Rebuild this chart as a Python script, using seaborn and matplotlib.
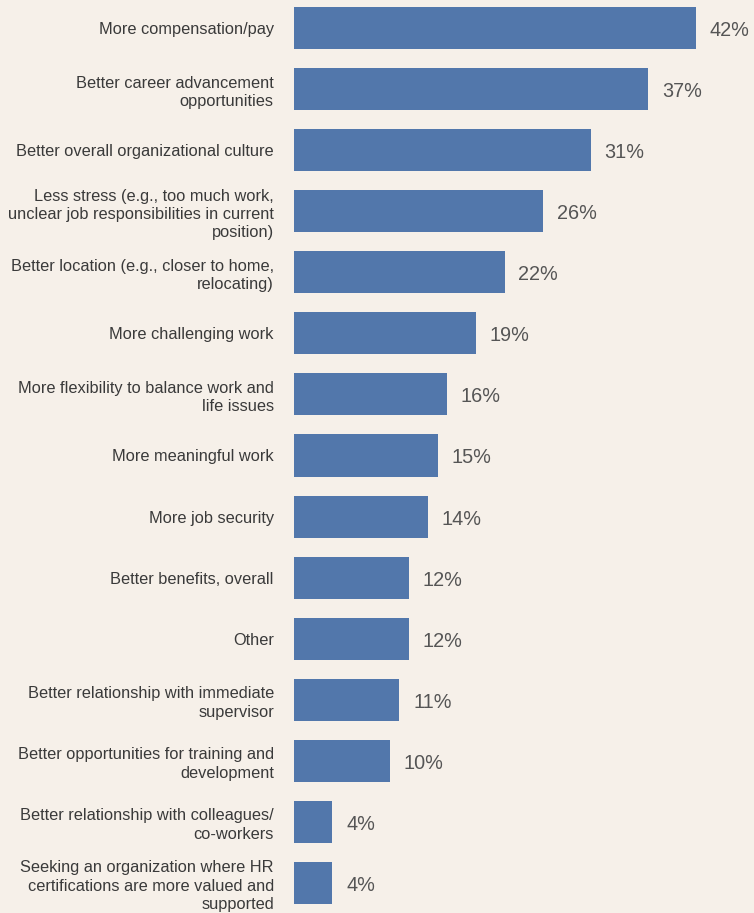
import matplotlib
matplotlib.use("Agg")
import matplotlib.pyplot as plt
import seaborn as sns
import pandas as pd

categories = [
    "More compensation/pay",
    "Better career advancement\nopportunities",
    "Better overall organizational culture",
    "Less stress (e.g., too much work,\nunclear job responsibilities in current\nposition)",
    "Better location (e.g., closer to home,\nrelocating)",
    "More challenging work",
    "More flexibility to balance work and\nlife issues",
    "More meaningful work",
    "More job security",
    "Better benefits, overall",
    "Other",
    "Better relationship with immediate\nsupervisor",
    "Better opportunities for training and\ndevelopment",
    "Better relationship with colleagues/\nco-workers",
    "Seeking an organization where HR\ncertifications are more valued and\nsupported",
]
values = [42, 37, 31, 26, 22, 19, 16, 15, 14, 12, 12, 11, 10, 4, 4]

BG = "#f6f0e9"
BAR = "#5277ab"

sns.set_theme(style="white")
plt.rcParams["font.family"] = ["Liberation Sans", "DejaVu Sans"]

df = pd.DataFrame({"reason": categories, "pct": values})

fig = plt.figure(figsize=(7.54, 9.13), dpi=100, facecolor=BG)
ax = fig.add_axes([294 / 754, 0, 460 / 754, 1])
ax.set_facecolor(BG)

sns.barplot(data=df, y="reason", x="pct", orient="h", color=BAR,
            saturation=1, width=0.69, linewidth=0, ax=ax)

ax.set_xlim(0, 460 / 9.57)
ax.set_ylim(14 + 30 / 61.07, -28 / 61.07)

for i, v in enumerate(values):
    ax.text(v + 1.45, i + 0.04, f"{v}%", va="center", ha="left",
            fontsize=14.3, color="#555555")

ax.set_xlabel("")
ax.set_ylabel("")
ax.set_xticks([])
ax.tick_params(axis="y", length=0, pad=14.5)
for lbl in ax.get_yticklabels():
    lbl.set_fontsize(11.8)
    lbl.set_color("#3a3a3a")
    lbl.set_multialignment("right")
    lbl.set_linespacing(1.27)
for s in ax.spines.values():
    s.set_visible(False)

fig.savefig("out.png", dpi=100, facecolor=BG)
